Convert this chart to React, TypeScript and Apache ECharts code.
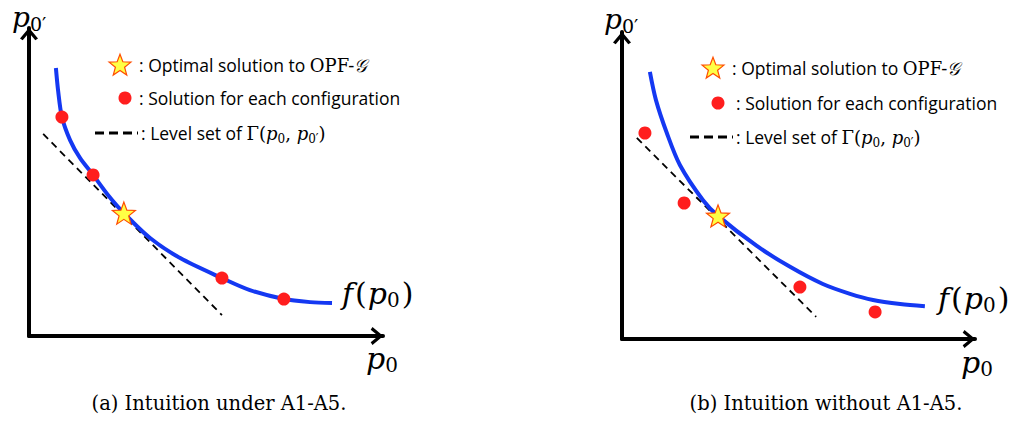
import React, { useEffect, useRef } from "react";
import * as echarts from "echarts";

// ---------- data (panel a: under A1-A5) ----------
const curveA_x = [0.76, 0.82, 0.93, 1.16, 1.44, 1.81, 2.23, 2.68, 3.42, 4.27, 5.45, 6.24, 7.2, 7.94, 8.56];
const curveA_y = [8.7, 7.99, 7.11, 6.36, 5.78, 5.23, 4.58, 3.99, 3.18, 2.53, 1.88, 1.49, 1.2, 1.1, 1.07];
const dotsA_x = [0.93, 1.81, 5.45, 7.2];
const dotsA_y = [7.11, 5.23, 1.88, 1.2];
const starA = [2.68, 3.99];
const levelA_x = [0.4, 5.45];
const levelA_y = [6.56, 0.68];

// ---------- data (panel b: without A1-A5) ----------
const curveB_x = [0.79, 0.96, 1.27, 1.64, 2.29, 2.72, 3.82, 4.76, 5.69, 6.46, 7.11, 7.88, 8.58];
const curveB_y = [8.7, 7.79, 6.71, 5.67, 4.53, 4.01, 3.03, 2.35, 1.79, 1.47, 1.27, 1.14, 1.07];
const dotsB_x = [0.65, 1.76, 5.04, 7.17];
const dotsB_y = [6.71, 4.43, 1.69, 0.88];
const starB = [2.72, 4.01];
const levelB_x = [0.42, 5.5];
const levelB_y = [6.55, 0.72];

// ---------- texts ----------
const captions = ["(a) Intuition under A1-A5.", "(b) Intuition without A1-A5."];
const legendTexts = [": Optimal solution to ", ": Solution for each configuration", ": Level set of "];

const zip = (xs: number[], ys: number[]) => xs.map((x, i) => [x, ys[i]]);

const STAR_PATH =
  "M50,0 L62.34,33.01 L97.55,34.55 L69.97,56.49 L79.39,90.45 L50,71 L20.61,90.45 L30.03,56.49 L2.45,34.55 L37.66,33.01 Z";
const STAR_PTS = [
  [50, 0], [62.34, 33.01], [97.55, 34.55], [69.97, 56.49], [79.39, 90.45],
  [50, 71], [20.61, 90.45], [30.03, 56.49], [2.45, 34.55], [37.66, 33.01],
];
const ARROW = "path://M0,12 L10,0 L20,12 L17,14 L10,5.5 L3,14 Z";

const BLUE = "#1438f2";
const RED = "#ff1e1e";
const STAR_FILL = "#ffff45";
const STAR_STROKE = "#ff4d00";
const SANS = "'Open Sans', Lato, sans-serif";
const SERIF = "'DejaVu Serif', 'Liberation Serif', serif";

const mathRich = {
  t: { fontFamily: SANS, fontSize: 17.5, color: "#000", lineHeight: 24 },
  m: { fontFamily: SERIF, fontSize: 18, color: "#000", lineHeight: 24 },
  mi: { fontFamily: SERIF, fontStyle: "italic", fontSize: 18, color: "#000", lineHeight: 24 },
  sb: { fontFamily: SERIF, fontSize: 12, color: "#000", lineHeight: 16, verticalAlign: "bottom" },
};

const bigRich = {
  i: { fontFamily: SERIF, fontStyle: "italic", fontSize: 30, color: "#000", lineHeight: 34 },
  r: { fontFamily: SERIF, fontSize: 30, color: "#000", lineHeight: 34, padding: [0, 1, 0, 2] },
  s: { fontFamily: SERIF, fontSize: 20, color: "#000", lineHeight: 20, verticalAlign: "bottom" },
};

const topRich = {
  i: { fontFamily: SERIF, fontStyle: "italic", fontSize: 28, color: "#000", lineHeight: 32 },
  s: { fontFamily: SERIF, fontSize: 19, color: "#000", lineHeight: 19, verticalAlign: "bottom" },
};

function starPolygon(cx: number, cy: number, size: number) {
  const s = size / 100;
  return STAR_PTS.map(([px, py]) => [cx + (px - 50) * s, cy + (py - 47) * s]);
}

function legendGraphics(sx: number, sy: number, dx: number, dy: number, lx0: number, lx1: number, ly: number, tx: number[]) {
  return [
    {
      type: "polygon",
      shape: { points: starPolygon(sx, sy, 23) },
      style: { fill: STAR_FILL, stroke: STAR_STROKE, lineWidth: 1.2 },
    },
    {
      type: "text",
      x: tx[0],
      y: sy,
      style: {
        text: `{t|${legendTexts[0]}}{m|OPF-}{mi|𝒢}`,
        rich: mathRich,
        verticalAlign: "middle",
      },
    },
    { type: "circle", shape: { cx: dx, cy: dy, r: 6.5 }, style: { fill: RED } },
    {
      type: "text",
      x: tx[1],
      y: dy,
      style: { text: `{t|${legendTexts[1]}}`, rich: mathRich, verticalAlign: "middle" },
    },
    {
      type: "line",
      shape: { x1: lx0, y1: ly, x2: lx1, y2: ly },
      style: { stroke: "#000", lineWidth: 3, lineDash: [9, 5] },
    },
    {
      type: "text",
      x: tx[2],
      y: ly,
      style: {
        text: `{t|${legendTexts[2]}}{m|Γ(}{mi|p}{sb|0}{m|, }{mi|p}{sb|0′}{m|)}`,
        rich: mathRich,
        verticalAlign: "middle",
      },
    },
  ];
}

function labelGraphics(yl: number[], fl: number[], xl: number[]) {
  return [
    { type: "text", x: yl[0], y: yl[1], style: { text: "{i|p}{s|0′}", rich: topRich } },
    { type: "text", x: fl[0], y: fl[1], style: { text: "{i|f}{r|(}{i|p}{s|0}{r|)}", rich: bigRich } },
    { type: "text", x: xl[0], y: xl[1], style: { text: "{i|p}{s|0}", rich: bigRich } },
  ];
}

function axisPair(gi: number) {
  return {
    gridIndex: gi,
    type: "value" as const,
    min: 0,
    max: 10,
    axisTick: { show: false },
    axisLabel: { show: false },
    splitLine: { show: false },
    axisLine: {
      show: true,
      onZero: false,
      symbol: ["none", ARROW],
      symbolSize: [18, 13],
      symbolOffset: [0, -6],
      lineStyle: { color: "#000", width: 4 },
    },
  };
}

function panelSeries(
  gi: number,
  cx: number[], cy: number[],
  dx: number[], dy: number[],
  st: number[],
  lx: number[], ly: number[]
) {
  return [
    {
      type: "line",
      xAxisIndex: gi,
      yAxisIndex: gi,
      data: zip(lx, ly),
      showSymbol: false,
      lineStyle: { color: "#000", width: 1.8, type: [7, 5] },
      z: 1,
    },
    {
      type: "line",
      xAxisIndex: gi,
      yAxisIndex: gi,
      data: zip(cx, cy),
      smooth: 0.3,
      showSymbol: false,
      lineStyle: { color: BLUE, width: 4 },
      z: 2,
    },
    {
      type: "scatter",
      xAxisIndex: gi,
      yAxisIndex: gi,
      data: zip(dx, dy),
      symbolSize: 13,
      itemStyle: { color: RED, opacity: 1 },
      z: 3,
    },
    {
      type: "scatter",
      xAxisIndex: gi,
      yAxisIndex: gi,
      data: [st],
      symbol: "path://" + STAR_PATH,
      symbolSize: [23, 22],
      itemStyle: { color: STAR_FILL, borderColor: STAR_STROKE, borderWidth: 1.2, opacity: 1 },
      z: 4,
    },
  ];
}

export default function App() {
  const ref = useRef<HTMLDivElement>(null);
  useEffect(() => {
    document.body.style.margin = "0";
    const chart = echarts.init(ref.current!, null, { renderer: "svg" });
    const option: any = {
      animation: false,
      backgroundColor: "#fff",
      grid: [
        { left: 29, top: 28, width: 354, height: 308 },
        { left: 622, top: 32, width: 353, height: 307 },
      ],
      xAxis: [axisPair(0), axisPair(1)],
      yAxis: [axisPair(0), axisPair(1)],
      series: [
        ...panelSeries(0, curveA_x, curveA_y, dotsA_x, dotsA_y, starA, levelA_x, levelA_y),
        ...panelSeries(1, curveB_x, curveB_y, dotsB_x, dotsB_y, starB, levelB_x, levelB_y),
      ],
      graphic: [
        ...legendGraphics(120, 65, 125, 98, 95, 138, 133, [139, 139, 141]),
        ...legendGraphics(713, 68, 718, 103, 690, 733, 137, [732, 736, 736]),
        ...labelGraphics([12, 1], [342, 276], [366, 341]),
        ...labelGraphics([604, 3], [938, 281], [961, 345]),
        {
          type: "text",
          x: 219,
          y: 403,
          style: { text: captions[0], fontFamily: SERIF, fontSize: 19.5, fill: "#000", align: "center", verticalAlign: "middle" },
        },
        {
          type: "text",
          x: 826,
          y: 403,
          style: { text: captions[1], fontFamily: SERIF, fontSize: 19.5, fill: "#000", align: "center", verticalAlign: "middle" },
        },
      ],
    };
    chart.setOption(option);
    return () => chart.dispose();
  }, []);
  return <div ref={ref} style={{ position: "absolute", left: 0, top: 0, width: 1023, height: 421 }} />;
}
